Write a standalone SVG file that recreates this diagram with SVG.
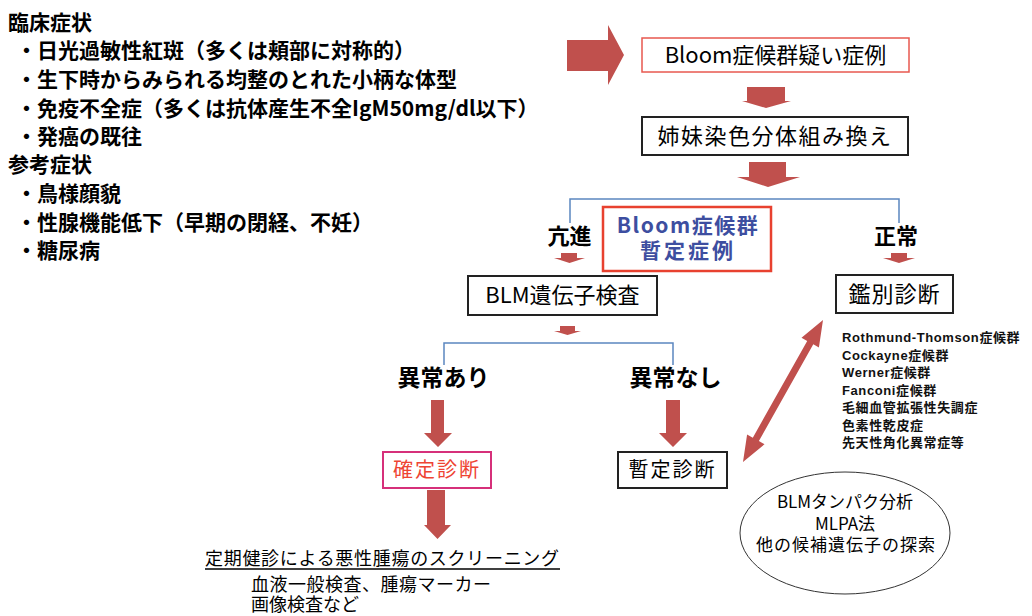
<svg xmlns="http://www.w3.org/2000/svg" width="1032" height="616" viewBox="0 0 1032 616">
<style>
.jp{font-family:"Noto Sans CJK JP","Noto Sans CJK SC",sans-serif;}
.lb{font-size:21px;font-weight:bold;fill:#000;}
.bx{font-size:22px;fill:#000;text-anchor:middle;}
.lab{font-size:22px;font-weight:bold;fill:#000;text-anchor:middle;}
.dd{font-family:"Liberation Sans","Noto Sans CJK JP",sans-serif;font-size:13px;font-weight:bold;letter-spacing:0.6px;fill:#111;}
.arw{fill:#c0504d;}
.blk{fill:#fff;stroke:#222;stroke-width:2;}
.br{fill:none;stroke:#5b87c0;stroke-width:1.5;}
</style>
<rect width="1032" height="616" fill="#fff"/>

<g id="symptoms" class="jp lb">
<text x="8" y="30">臨床症状</text>
<text x="16" y="58">・日光過敏性紅斑（多くは頬部に対称的）</text>
<text x="16" y="87">・生下時からみられる均整のとれた小柄な体型</text>
<text x="16" y="116">・免疫不全症（多くは抗体産生不全IgM50mg/dl以下）</text>
<text x="16" y="144">・発癌の既往</text>
<text x="8" y="172">参考症状</text>
<text x="16" y="201">・鳥様顔貌</text>
<text x="16" y="230">・性腺機能低下（早期の閉経、不妊）</text>
<text x="16" y="258">・糖尿病</text>
</g>

<g id="connectors">
<path class="arw" d="M567,40 H608 V25 L624,55 L608,85 V71 H567 Z"/>
<path class="arw" d="M747,87 H785 V101 H791 L766,108 L742,101 H747 Z"/>
<path class="arw" d="M749,162 H786 V177 H800 L768,187 L737,177 H749 Z"/>
<polyline class="br" points="570,223 570,199 899,199 899,223"/>
<path class="arw" d="M561,253 H577 V258 H585 L569.5,263 L554,258 H561 Z"/>
<path class="arw" d="M891,253 H907 V258 H915 L899,263 L883,258 H891 Z"/>
<path class="arw" d="M560,326 H575 V331 H581 L567.5,335 L554,331 H560 Z"/>
<polyline class="br" points="444,365 444,343 673,343 673,365"/>
<path class="arw" d="M431,400 H444 V433 H452 L438,447 L424,433 H431 Z"/>
<path class="arw" d="M666,400 H680 V433 H687 L673,447 L659,433 H666 Z"/>
<path class="arw" d="M427,490 H445 V525 H451 L437.5,539 L424,525 H427 Z"/>
<polygon class="arw" points="823,320 818.9,347.5 813.3,344.3 758.9,441.1 764.5,444.3 743,462 747.1,434.5 752.8,437.7 807.2,340.9 801.5,337.7"/>
</g>

<g id="suspected">
<rect x="642" y="38" width="267" height="34" fill="#fff" stroke="#e8584f" stroke-width="1.5"/>
<text class="jp bx" x="775.5" y="63">Bloom症候群疑い症例</text>
</g>

<g id="sce">
<rect class="blk" x="642" y="117" width="266" height="38"/>
<text class="jp bx" x="775" y="144" letter-spacing="1.5">姉妹染色分体組み換え</text>
</g>

<g id="provisional-case">
<rect x="603" y="207" width="168" height="64" fill="#fff" stroke="#e8412f" stroke-width="2.5"/>
<text class="jp" x="688" y="233" font-size="21" font-weight="bold" fill="#3d4ea0" text-anchor="middle" letter-spacing="1.5">Bloom症候群</text>
<text class="jp" x="688" y="258" font-size="21" font-weight="bold" fill="#3d4ea0" text-anchor="middle" letter-spacing="3">暫定症例</text>
</g>

<g id="label-up"><text class="jp lab" x="569.5" y="244">亢進</text></g>
<g id="label-normal"><text class="jp lab" x="896" y="244">正常</text></g>

<g id="blm-test">
<rect class="blk" x="468" y="276" width="189" height="39"/>
<text class="jp bx" x="562.5" y="303">BLM遺伝子検査</text>
</g>

<g id="differential">
<rect class="blk" x="836" y="275" width="117" height="38"/>
<text class="jp bx" x="894.5" y="302" letter-spacing="1">鑑別診断</text>
</g>

<g id="differential-list" class="dd">
<text x="842" y="342">Rothmund-Thomson症候群</text>
<text x="842" y="359.5">Cockayne症候群</text>
<text x="842" y="377">Werner症候群</text>
<text x="842" y="394.5">Fanconi症候群</text>
<text x="842" y="412">毛細血管拡張性失調症</text>
<text x="842" y="429.5">色素性乾皮症</text>
<text x="842" y="447">先天性角化異常症等</text>
</g>

<g id="abnormal-yes"><text class="jp" x="443.5" y="386" font-size="23" font-weight="bold" text-anchor="middle">異常あり</text></g>
<g id="abnormal-no"><text class="jp" x="675.5" y="386" font-size="23" font-weight="bold" text-anchor="middle">異常なし</text></g>

<g id="confirmed">
<rect x="383" y="452" width="108" height="36" fill="#fff" stroke="#d6307a" stroke-width="2"/>
<text class="jp" x="437" y="477" font-size="20" fill="#ee4433" text-anchor="middle" letter-spacing="2">確定診断</text>
</g>

<g id="provisional">
<rect class="blk" x="618" y="452" width="109" height="36"/>
<text class="jp" x="672.5" y="477" font-size="20" fill="#000" text-anchor="middle" letter-spacing="2">暫定診断</text>
</g>

<g id="screening" class="jp" font-size="18" fill="#000">
<text x="205" y="565" letter-spacing="0.7">定期健診による悪性腫瘍のスクリーニング</text>
<line x1="205" y1="569" x2="560" y2="569" stroke="#000" stroke-width="1.5"/>
<text x="251" y="591" letter-spacing="0.5">血液一般検査、腫瘍マーカー</text>
<text x="251" y="611">画像検査など</text>
</g>

<g id="further">
<ellipse cx="845" cy="533" rx="105" ry="61" fill="#fff" stroke="#333" stroke-width="1"/>
<text class="jp" x="845" y="508" font-size="17" text-anchor="middle">BLMタンパク分析</text>
<text class="jp" x="845" y="530" font-size="17" text-anchor="middle">MLPA法</text>
<text class="jp" x="846" y="551" font-size="17" text-anchor="middle" letter-spacing="1">他の候補遺伝子の探索</text>
</g>
</svg>
